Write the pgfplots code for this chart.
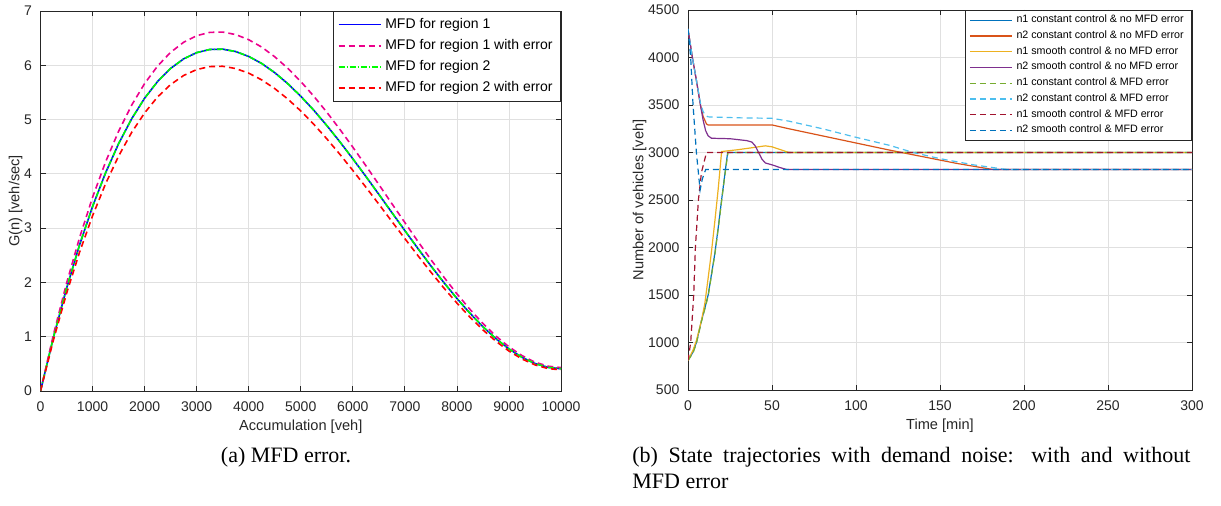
\documentclass[border=0pt]{standalone}
\usepackage{fontspec}
\setmainfont{Liberation Sans}
\newfontfamily\capfont{Liberation Serif}
\usepackage{pgfplots}
\usepackage{pgfplotstable}
\pgfplotsset{compat=1.18}

\definecolor{mgrid}{gray}{0.88}
\definecolor{maxis}{gray}{0.15}
\definecolor{c1}{rgb}{0,0.447,0.741}
\definecolor{c2}{rgb}{0.85,0.325,0.098}
\definecolor{c3}{rgb}{0.929,0.694,0.125}
\definecolor{c4}{rgb}{0.494,0.184,0.556}
\definecolor{c5}{rgb}{0.466,0.674,0.188}
\definecolor{c6}{rgb}{0.301,0.745,0.933}
\definecolor{c7}{rgb}{0.635,0.078,0.184}

% MFD curves: n, region 1, region 1 with error, region 2, region 2 with error
\pgfplotstableread{
n     g1    g1e   g2    g2e
0     0     0     0     0
250   0.994 1.044 0.994 0.944
500   1.889 1.983 1.889 1.795
750   2.689 2.823 2.689 2.555
1000  3.397 3.567 3.397 3.227
1250  4.018 4.219 4.018 3.817
1500  4.555 4.783 4.555 4.327
1750  5.012 5.263 5.012 4.761
2000  5.393 5.663 5.393 5.123
2250  5.702 5.987 5.702 5.417
2500  5.942 6.239 5.942 5.645
2750  6.118 6.424 6.118 5.812
3000  6.233 6.545 6.233 5.921
3250  6.291 6.606 6.291 5.976
3500  6.297 6.612 6.297 5.982
3750  6.253 6.566 6.253 5.940
4000  6.163 6.471 6.163 5.855
4250  6.033 6.335 6.033 5.731
4500  5.864 6.157 5.864 5.571
4750  5.662 5.945 5.662 5.379
5000  5.430 5.702 5.430 5.159
5250  5.172 5.431 5.172 4.913
5500  4.891 5.136 4.891 4.646
5750  4.592 4.822 4.592 4.362
6000  4.278 4.492 4.278 4.064
6250  3.954 4.152 3.954 3.756
6500  3.623 3.804 3.623 3.442
6750  3.288 3.452 3.288 3.124
7000  2.955 3.103 2.955 2.807
7250  2.626 2.757 2.626 2.495
7500  2.305 2.420 2.305 2.190
7750  1.997 2.097 1.997 1.897
8000  1.705 1.790 1.705 1.620
8250  1.433 1.505 1.433 1.361
8500  1.184 1.243 1.184 1.125
8750  0.964 1.012 0.964 0.916
9000  0.775 0.814 0.775 0.736
9250  0.621 0.652 0.621 0.590
9500  0.506 0.531 0.506 0.481
9750  0.435 0.457 0.435 0.413
10000 0.410 0.431 0.410 0.390
}\mfd

\tikzset{
  dsh/.style={dash pattern=on 3pt off 2pt},
  dshdot/.style={dash pattern=on 3pt off 1pt on 0.6pt off 1pt},
}

\pgfplotsset{
  matlab/.style={
    scale only axis,
    axis line style={maxis, line width=0.4pt},
    tick style={maxis, line width=0.4pt},
    tick align=inside, xtick pos=both, ytick pos=both,
    major tick length=2.5pt,
    grid=major, grid style={mgrid, line width=0.4pt},
    ticklabel style={font=\fontsize{7}{8}\selectfont, text=maxis},
    xticklabel style={yshift=-2pt},
    yticklabel style={xshift=-0.8pt},
    label style={font=\fontsize{7.3}{8}\selectfont, text=maxis},
    xlabel shift=-3pt, ylabel shift=-6pt,
    /pgf/number format/assume math mode=true,
    /pgf/number format/1000 sep={},
    scaled ticks=false,
    legend cell align=left,
    legend image code/.code={\draw[#1] (0pt,0pt) -- (21pt,0pt);},
  },
}

\begin{document}
\begin{tikzpicture}
\path[use as bounding box] (0pt,0pt) rectangle (610.5pt,-253pt);

% (a) MFD error
\begin{axis}[matlab,
  at={(20.25pt,-195.5pt)}, anchor=south west,
  width=260.25pt, height=190pt,
  xmin=0, xmax=10000, ymin=0, ymax=7,
  xtick={0,1000,...,10000}, ytick={0,1,...,7},
  xlabel={Accumulation [veh]}, ylabel={G(n) [veh/sec]},
  legend style={at={(1,1)}, anchor=north east, draw=maxis,
    font=\fontsize{7}{8}\selectfont, text=black, inner xsep=2pt, inner ysep=1.3pt},
]
\addplot[draw=blue, line width=0.8pt] table[x=n, y=g1] {\mfd};
\addlegendentry{MFD for region 1}
\addplot[draw=magenta, line width=0.8pt, dsh] table[x=n, y=g1e] {\mfd};
\addlegendentry{MFD for region 1 with error}
\addplot[draw=green, line width=0.8pt, dshdot] table[x=n, y=g2] {\mfd};
\addlegendentry{MFD for region 2}
\addplot[draw=red, line width=0.8pt, dsh] table[x=n, y=g2e] {\mfd};
\addlegendentry{MFD for region 2 with error}
\end{axis}

% (b) state trajectories
\begin{axis}[matlab,
  at={(344pt,-195pt)}, anchor=south west,
  width=252pt, height=190pt,
  xmin=0, xmax=300, ymin=500, ymax=4500,
  xtick={0,50,...,300}, ytick={500,1000,...,4500},
  xlabel={Time [min]}, ylabel={Number of vehicles [veh]},
  legend style={at={(1,1)}, anchor=north east, draw=maxis,
    font=\fontsize{5.35}{6}\selectfont, text=black, inner xsep=2pt, inner ysep=1pt,
    nodes={inner ysep=1.25pt}},
]
\addplot[draw=c1, line width=0.6pt] coordinates {(0,810) (3,900) (5,1000) (8,1230) (10,1360) (12,1500) (14,1720) (16,1940) (18,2210) (20,2500) (22,2780) (23.6,3000) (300,3000)};
\addlegendentry{n1 constant control \& no MFD error}
\addplot[draw=c2, line width=0.6pt] coordinates {(0,4300) (2.6,4000) (5,3760) (7.4,3500) (9,3380) (11,3300) (12,3290) (50,3290) (60,3250) (80,3175) (100,3100) (120,3025) (140,2955) (160,2885) (175,2840) (182,2820) (300,2820)};
\addlegendentry{n2 constant control \& no MFD error}
\addplot[draw=c3, line width=0.6pt] coordinates {(0,810) (3,920) (5,1020) (8,1230) (10,1410) (12,1680) (14,1960) (16,2280) (18,2620) (20,3010) (30,3030) (40,3055) (46,3070) (50,3060) (55,3030) (60,3000) (300,3000)};
\addlegendentry{n1 smooth control \& no MFD error}
\addplot[draw=c4, line width=0.6pt] coordinates {(0,4300) (2.6,4000) (5,3760) (7.4,3500) (9,3340) (10.5,3230) (12,3175) (14,3150) (25,3145) (35,3125) (38,3110) (40,3070) (42,3000) (44,2930) (46,2890) (50,2870) (55,2840) (59,2820) (300,2820)};
\addlegendentry{n2 smooth control \& no MFD error}
\addplot[draw=c5, line width=0.6pt, dsh] coordinates {(0,810) (3,890) (5,990) (8,1220) (10,1350) (12,1490) (14,1710) (16,1930) (18,2200) (20,2490) (22,2770) (23.8,3000) (300,3000)};
\addlegendentry{n1 constant control \& MFD error}
\addplot[draw=c6, line width=0.6pt, dsh] coordinates {(0,4300) (2.6,4000) (5,3760) (7.4,3520) (9,3430) (10.5,3390) (12,3375) (30,3365) (50,3360) (60,3330) (80,3250) (100,3160) (120,3075) (134,3000) (150,2935) (170,2870) (190,2820) (300,2820)};
\addlegendentry{n2 constant control \& MFD error}
\addplot[draw=c7, line width=0.6pt, dsh] coordinates {(0,810) (1.6,1000) (3.4,1500) (4.4,2000) (6.2,2500) (8,2790) (11,3000) (300,3000)};
\addlegendentry{n1 smooth control \& MFD error}
\addplot[draw=c1, line width=0.6pt, dsh] coordinates {(0,4300) (1.6,4000) (3,3500) (5,3000) (7.2,2605) (8.5,2720) (10.5,2820) (300,2820)};
\addlegendentry{n2 smooth control \& MFD error}
\end{axis}

% captions
\node[font=\capfont\fontsize{11}{13}\selectfont, anchor=base, inner sep=0pt] at (143pt,-231.35pt) {(a) MFD error.};
\node[font=\capfont\fontsize{11}{13}\selectfont, anchor=north west, inner sep=0pt, text width=279pt, align=justify] at (316pt,-223.5pt) {(b) State trajectories with demand noise: with and without\linebreak MFD error};
\end{tikzpicture}
\end{document}
